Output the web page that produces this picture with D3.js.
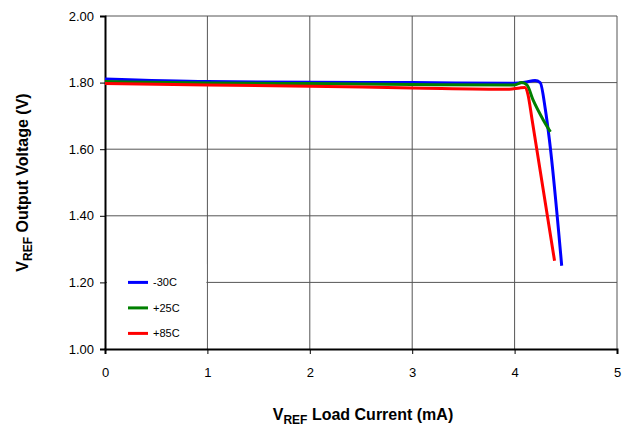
<!DOCTYPE html>
<html>
<head>
<meta charset="utf-8">
<script src="https://cdn.jsdelivr.net/npm/d3@7"></script>
<style>
  body { margin: 0; background: #fff; }
  text { font-family: "Liberation Sans", Arial, sans-serif; }
</style>
</head>
<body>
<div id="chart"></div>
<script>
// series: [load current mA, output voltage V]
const seriesNames = ['-30C', '+25C', '+85C'];
const seriesColors = ['#0000ff', '#008000', '#ff0000'];
const minus30 = [[0, 1.811], [1, 1.803], [2, 1.801], [3, 1.800], [4, 1.798], [4.1, 1.801], [4.2, 1.806], [4.25, 1.800], [4.3, 1.72], [4.34, 1.628], [4.46, 1.25]];
const plus25 = [[0, 1.803], [1, 1.799], [2, 1.797], [3, 1.794], [4, 1.793], [4.07, 1.800], [4.12, 1.793], [4.18, 1.748], [4.28, 1.688], [4.35, 1.652]];
const plus85 = [[0, 1.797], [1, 1.793], [2, 1.789], [3, 1.784], [3.95, 1.780], [4.05, 1.784], [4.1, 1.785], [4.13, 1.765], [4.17, 1.69], [4.39, 1.265]];
const xTicks = [0, 1, 2, 3, 4, 5];
const yTicks = [1.0, 1.2, 1.4, 1.6, 1.8, 2.0];

const margin = {top: 16, right: 16, bottom: 80, left: 105};
const width = 633 - margin.left - margin.right;
const height = 429 - margin.top - margin.bottom;

const svg = d3.select('#chart')
    .append('svg')
    .attr('width', 633)
    .attr('height', 429)
    .append('g')
    .attr('transform', 'translate(' + margin.left + ',' + margin.top + ')');

const xScale = d3.scaleLinear().domain([0, 5]).range([0, width]);
const yScale = d3.scaleLinear().domain([1, 2]).range([height, 0]);

// grid
svg.append('g')
    .selectAll('line')
    .data(xTicks.slice(1))
    .join('line')
    .attr('x1', d => xScale(d)).attr('x2', d => xScale(d))
    .attr('y1', 0).attr('y2', height)
    .attr('stroke', '#555').attr('stroke-width', 1);

svg.append('g')
    .selectAll('line')
    .data(yTicks.slice(1))
    .join('line')
    .attr('x1', 0).attr('x2', width)
    .attr('y1', d => yScale(d)).attr('y2', d => yScale(d))
    .attr('stroke', '#555').attr('stroke-width', 1);

// axes
const xAxis = d3.axisBottom(xScale).tickValues(xTicks).tickFormat(d3.format('d')).tickSize(5).tickPadding(14);
const yAxis = d3.axisLeft(yScale).tickValues(yTicks).tickFormat(d3.format('.2f')).tickSize(5).tickPadding(6);

svg.append('g')
    .attr('class', 'axis x-axis')
    .attr('transform', 'translate(0,' + height + ')')
    .call(xAxis)
    .call(g => g.select('.domain').attr('stroke-width', 2))
    .call(g => g.selectAll('text').attr('font-size', 13).attr('fill', '#000'));

svg.append('g')
    .attr('class', 'axis y-axis')
    .call(yAxis)
    .call(g => g.select('.domain').attr('stroke-width', 2))
    .call(g => g.selectAll('text').attr('font-size', 13).attr('fill', '#000'));

// legend background covers grid
svg.append('rect')
    .attr('x', 2).attr('y', yScale(1.255))
    .attr('width', xScale(1) - 3).attr('height', height - yScale(1.255) - 1)
    .attr('fill', '#fff');

// lines
const line = d3.line()
    .x(d => xScale(d[0]))
    .y(d => yScale(d[1]))
    .curve(d3.curveMonotoneX);

const allSeries = [minus30, plus25, plus85];
svg.selectAll('.series')
    .data(allSeries)
    .join('path')
    .attr('class', 'series')
    .attr('d', line)
    .attr('fill', 'none')
    .attr('stroke', (d, i) => seriesColors[i])
    .attr('stroke-width', 3);

// legend
const legend = svg.append('g')
    .attr('transform', 'translate(23,' + (yScale(1.2)) + ')');
const items = legend.selectAll('g')
    .data(seriesNames)
    .join('g')
    .attr('transform', (d, i) => 'translate(0,' + (i * 25.5) + ')');
items.append('line')
    .attr('x1', 0).attr('x2', 20)
    .attr('stroke', (d, i) => seriesColors[i])
    .attr('stroke-width', 3);
items.append('text')
    .attr('x', 25).attr('dy', '0.35em')
    .attr('font-size', 11)
    .text(d => d);

// axis titles
const xTitle = svg.append('text')
    .attr('x', width / 2 + 2).attr('y', height + 71)
    .attr('text-anchor', 'middle')
    .attr('font-size', 16).attr('font-weight', 'bold');
xTitle.append('tspan').text('V');
xTitle.append('tspan').attr('font-size', 12).attr('dy', 4).text('REF');
xTitle.append('tspan').attr('dy', -4).text(' Load Current (mA)');

const yTitle = svg.append('text')
    .attr('transform', 'translate(' + (-77) + ',' + (height / 2) + ') rotate(-90)')
    .attr('text-anchor', 'middle')
    .attr('font-size', 16).attr('font-weight', 'bold');
yTitle.append('tspan').text('V');
yTitle.append('tspan').attr('font-size', 12).attr('dy', 4).text('REF');
yTitle.append('tspan').attr('dy', -4).text(' Output Voltage (V)');
</script>
</body>
</html>
